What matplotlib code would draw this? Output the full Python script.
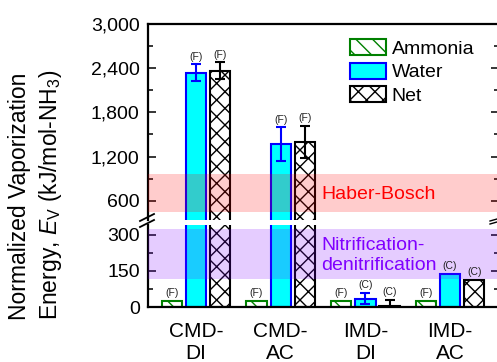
import matplotlib
matplotlib.use('Agg')
import matplotlib.pyplot as plt
from matplotlib.lines import Line2D
from matplotlib.patches import Patch
from matplotlib.ticker import FuncFormatter, FixedLocator

plt.rcParams['font.family'] = ['Liberation Sans', 'DejaVu Sans']
plt.rcParams['mathtext.fontset'] = 'custom'
plt.rcParams['mathtext.rm'] = 'Liberation Sans'
plt.rcParams['mathtext.it'] = 'Liberation Sans:italic'
plt.rcParams['hatch.linewidth'] = 1.0

# ---------------- data ----------------
groups = ['CMD-\nDI', 'CMD-\nAC', 'IMD-\nDI', 'IMD-\nAC']
ammonia = [25, 25, 25, 25]
water = [2340, 1370, 35, 138]
water_err = [115, 225, 24, 0]
net = [2365, 1400, 4, 112]
net_err = [117, 218, 27, 0]
ammonia_tags = ['(F)', '(F)', '(F)', '(F)']
water_tags = ['(F)', '(F)', '(C)', '(C)']
net_tags = ['(F)', '(F)', '(C)', '(C)']
haber_bosch = (445, 970)
nitrification = (115, 325)
series_names = ['Ammonia', 'Water', 'Net']

# ---------------- figure ----------------
W, H = 497, 362
fig = plt.figure(figsize=(W / 100, H / 100), dpi=100)

def fx(px):
    return px / W

def fy(py):
    return (H - py) / H

left_px, right_px = 148, 499
top_px, brk_top_px, brk_bot_px, bot_px = 24, 220, 225, 307
ax_top = fig.add_axes([fx(left_px), fy(brk_top_px), fx(right_px) - fx(left_px), fy(top_px) - fy(brk_top_px)])
ax_bot = fig.add_axes([fx(left_px), fy(bot_px), fx(right_px) - fx(left_px), fy(brk_bot_px) - fy(bot_px)])

x = [1, 2, 3, 4]
off = 0.285
bw = 0.24
xlim = (0.4333, 0.4333 + (right_px - left_px) / 84.7)

for ax in (ax_top, ax_bot):
    ax.bar([v - off for v in x], ammonia, bw, facecolor='white', edgecolor='#008000',
           hatch='\\\\', linewidth=1.5, zorder=2)
    ax.bar(x, water, bw, facecolor='#00FFFF', edgecolor='#0000FF', linewidth=1.5, zorder=2)
    ax.bar([v + off for v in x], net, bw, facecolor='white', edgecolor='black',
           hatch='xx', linewidth=1.5, zorder=2)
    for i in range(4):
        if water_err[i] > 0:
            ax.errorbar(x[i], water[i], yerr=water_err[i], fmt='none', ecolor='#0000FF',
                        elinewidth=1.5, capsize=3.6, capthick=1.5, zorder=3)
        if net_err[i] > 0:
            ax.errorbar(x[i] + off, net[i], yerr=net_err[i], fmt='none', ecolor='black',
                        elinewidth=1.5, capsize=3.6, capthick=1.5, zorder=3)
    ax.set_xlim(*xlim)
    for s in ax.spines.values():
        s.set_linewidth(1.6)
    ax.tick_params(axis='y', which='both', direction='in', left=True, right=True,
                   labelsize=14, pad=6, width=1.1)
    ax.tick_params(axis='y', which='major', length=5.5)
    ax.tick_params(axis='y', which='minor', length=3.6)

ax_top.set_ylim(339, 3000)
ax_bot.set_ylim(0, 340)
ax_top.axhspan(*haber_bosch, color='#FF0000', alpha=0.2, lw=0, zorder=4)
ax_bot.axhspan(*nitrification, color='#8000FF', alpha=0.2, lw=0, zorder=4)

ax_top.yaxis.set_major_locator(FixedLocator([600, 1200, 1800, 2400, 3000]))
ax_top.yaxis.set_minor_locator(FixedLocator([900, 1500, 2100, 2700]))
ax_top.yaxis.set_major_formatter(FuncFormatter(lambda v, p: f'{v:,.0f}'))
ax_bot.yaxis.set_major_locator(FixedLocator([0, 150, 300]))
ax_bot.yaxis.set_minor_locator(FixedLocator([75, 225]))

ax_top.spines['bottom'].set_visible(False)
ax_bot.spines['top'].set_visible(False)
ax_top.tick_params(axis='x', which='both', bottom=False, labelbottom=False)
ax_bot.set_xticks(x)
ax_bot.set_xticklabels(groups, fontsize=15, linespacing=1.15)
ax_bot.tick_params(axis='x', length=0, pad=11)

# tags
def tag(xp, top, text):
    ax = ax_top if top > 340 else ax_bot
    ax.annotate(text, (xp, top), xytext=(0, 5.5), textcoords='offset points',
                ha='center', va='center', fontsize=7.5, color='#222222',
                annotation_clip=False, zorder=6)

for i in range(4):
    tag(x[i] - off, ammonia[i], ammonia_tags[i])
    tag(x[i], water[i] + water_err[i], water_tags[i])
    tag(x[i] + off, net[i] + net_err[i], net_tags[i])

# band texts
xd = xlim[0] + (321 - left_px) / 84.7
ax_top.text(xd, 690, 'Haber-Bosch', color='#FF0000', fontsize=14, va='center', ha='left', zorder=6)
ax_bot.text(xd, 215, 'Nitrification-\ndenitrification', color='#8000FF', fontsize=14,
            va='center', ha='left', linespacing=1.25, zorder=6)

# legend
handles = [Patch(facecolor='white', edgecolor='#008000', hatch='\\\\', linewidth=1.5),
           Patch(facecolor='#00FFFF', edgecolor='#0000FF', linewidth=1.5),
           Patch(facecolor='white', edgecolor='black', hatch='xx', linewidth=1.5)]
fig.legend(handles, series_names, loc='upper left', bbox_to_anchor=(fx(350), fy(39)),
           frameon=False, fontsize=14, handlelength=1.85, handleheight=0.9,
           handletextpad=0.3, labelspacing=0.25, borderpad=0, borderaxespad=0)

# y label
fig.text(fx(20), fy(196), 'Normalized Vaporization', rotation=90, fontsize=16.5,
         ha='center', va='center')
fig.text(fx(51), fy(195), r'Energy, $\mathit{E}_\mathrm{V}$ (kJ/mol-NH$_3$)', rotation=90,
         fontsize=16.5, ha='center', va='center')

# break marks
for (x0, y0, x1, y1) in [(140, 221, 154, 214), (140, 227, 154, 220)]:
    fig.add_artist(Line2D([fx(x0), fx(x1)], [fy(y0), fy(y1)], color='black', lw=1.3))
for (x0, y0, x1, y1) in [(490, 221, 497, 219), (490, 224, 497, 222)]:
    fig.add_artist(Line2D([fx(x0), fx(x1)], [fy(y0), fy(y1)], color='black', lw=1.0))

fig.savefig('out.png', dpi=100)
